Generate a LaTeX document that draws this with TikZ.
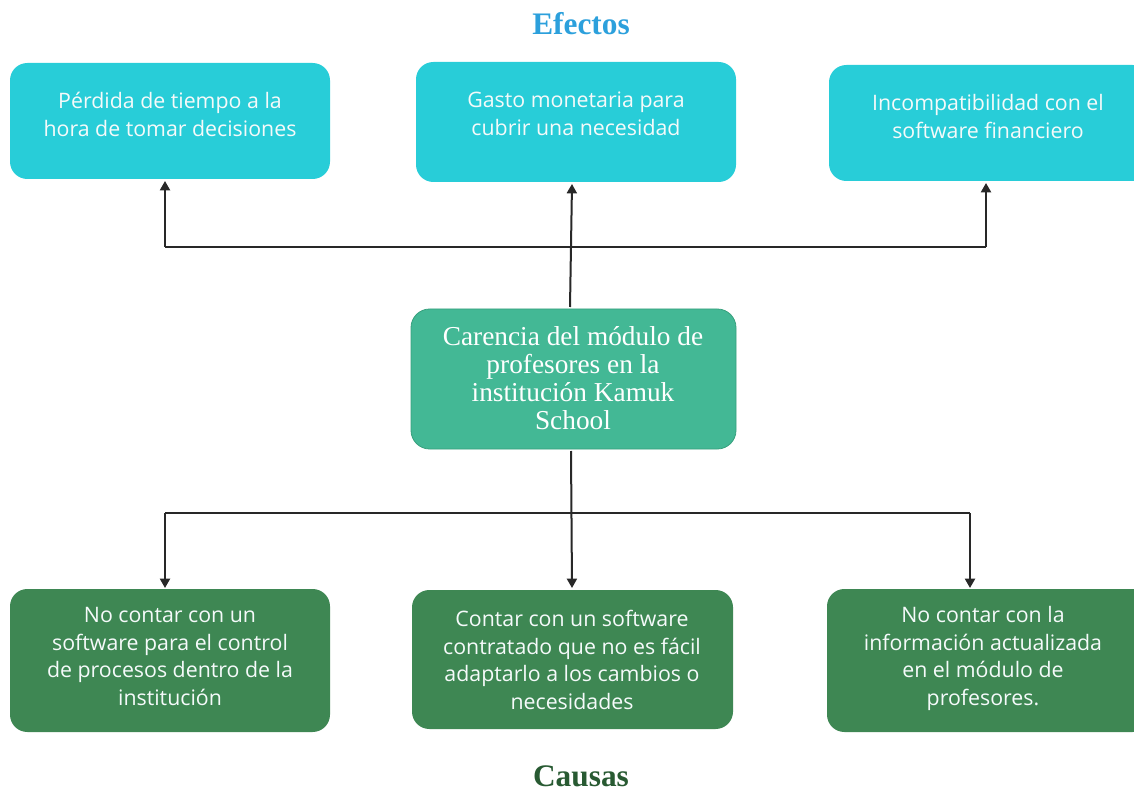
\documentclass[tikz,border=0pt]{standalone}
\usepackage{fontspec}
\setmainfont{Liberation Serif}
\newfontfamily\boxfont{Open Sans}
\usetikzlibrary{arrows.meta}
\definecolor{cyanbox}{RGB}{40,205,216}
\definecolor{midbox}{RGB}{67,184,149}
\definecolor{midborder}{RGB}{55,160,125}
\definecolor{greenbox}{RGB}{62,135,83}
\definecolor{efcol}{RGB}{44,160,220}
\definecolor{cacol}{RGB}{40,90,50}
\definecolor{linecol}{RGB}{40,40,40}
\definecolor{txtw}{RGB}{245,250,250}
\tikzset{
  effbox/.style={fill=cyanbox, rounded corners=13pt},
  causebox/.style={fill=greenbox, rounded corners=13pt},
  centerbox/.style={fill=midbox, draw=midborder, line width=0.6pt, rounded corners=14pt},
  sanstxt/.style={text=txtw, font=\boxfont\fontsize{16}{20.6}\selectfont, align=center, inner sep=0pt},
  seriftxt/.style={text=white, font=\fontsize{20.5}{21}\selectfont, align=center, inner sep=0pt},
  conn/.style={draw=linecol, line width=1.5pt},
  arr/.style={conn, -{Triangle[length=7pt,width=7.5pt]}},
  title/.style={font=\bfseries\fontsize{23.5}{26}\selectfont, inner sep=0pt}
}
\begin{document}
\begin{tikzpicture}[x=0.75pt, y=-0.75pt]
\useasboundingbox (0,0) rectangle (1134,791);
% titles
\node[title, text=efcol] (tE) at (581,24) {Efectos};
\node[title, text=cacol] (tC) at (581,776) {Causas};
% effect boxes
\path[effbox] (10,63) rectangle (330,179);
\node[sanstxt] (e1) at (170,114.5) {Pérdida de tiempo a la\\hora de tomar decisiones};
\path[effbox] (416,62) rectangle (736,182);
\node[sanstxt] (e2) at (576,114) {Gasto monetaria para\\cubrir una necesidad};
\path[effbox] (829,65) rectangle (1150,181);
\node[sanstxt] (e3) at (988,116.5) {Incompatibilidad con el\\software financiero};
% center
\node[centerbox, minimum width=243.75pt, minimum height=105pt] (c) at (573.5,379) {};
\node[seriftxt] (ct) at (573,378.5) {Carencia del módulo de\\profesores en la\\institución Kamuk\\School};
% cause boxes
\path[causebox] (10,589) rectangle (330,732);
\node[sanstxt] (c1) at (170,656.5) {No contar con un\\software para el control\\de procesos dentro de la\\institución};
\path[causebox] (412,590) rectangle (733,729);
\node[sanstxt] (c2) at (572,660) {Contar con un software\\contratado que no es fácil\\adaptarlo a los cambios o\\necesidades};
\path[causebox] (827,589) rectangle (1150,732);
\node[sanstxt] (c3) at (983,658.5) {No contar con la\\información actualizada\\en el módulo de\\profesores.};
% anchors for connectors
\coordinate (e1b) at (165,181);
\coordinate (e2b) at (572,184);
\coordinate (e3b) at (986,183);
\coordinate (hl) at (165,247);
\coordinate (hr) at (986,247);
\coordinate (ctop) at (570,307);
\coordinate (cbot) at (571,451);
\coordinate (bl) at (165,513);
\coordinate (br) at (970,513);
\coordinate (c1t) at (165,588);
\coordinate (c2t) at (572,588);
\coordinate (c3t) at (970,588);
% top connectors
\draw[conn] (hl) -- (hr);
\draw[arr] (hl) -- (e1b);
\draw[arr] (hr) -- (e3b);
\draw[arr] (ctop) -- (e2b);
% bottom connectors
\draw[conn] (bl) -- (br);
\draw[arr] (bl) -- (c1t);
\draw[arr] (br) -- (c3t);
\draw[arr] (cbot) -- (c2t);
\end{tikzpicture}
\end{document}
